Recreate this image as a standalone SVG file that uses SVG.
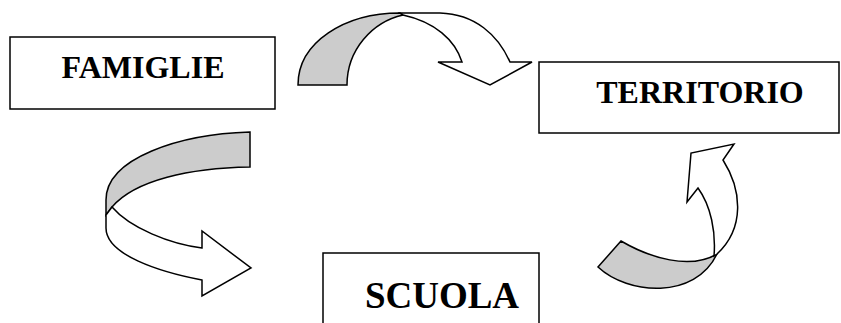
<svg xmlns="http://www.w3.org/2000/svg" width="841" height="323" viewBox="0 0 841 323">
  <style>
    .box { fill: #ffffff; stroke: #000000; stroke-width: 1.5; }
    .label { font-family: "Liberation Serif", "Times New Roman", serif; font-weight: bold; fill: #000000; text-anchor: middle; }
    .back { fill: #cccccc; stroke: #000000; stroke-width: 1.5; stroke-linejoin: miter; }
    .front { fill: #ffffff; stroke: #000000; stroke-width: 1.5; stroke-linejoin: miter; }
  </style>

  <!-- curved ribbon arrows -->
  <g id="connectors">
    <!-- FAMIGLIE to TERRITORIO -->
    <g id="arrow-famiglie-territorio">
      <path class="back" d="M298,85 C298,42 345,13 400,13 L403,15 C372,22 347,50 347,85 Z"/>
      <path class="front" d="M403,15 C435,22 455,40 462,62 L438,62 L490,85 L532,62 L510,62 C498,35 475,14 440,13 L400,13 Z"/>
    </g>
    <!-- FAMIGLIE to SCUOLA -->
    <g id="arrow-famiglie-scuola">
      <path class="back" d="M250,132 C180,134 106,158 106,200 L106,215 L112,207 C135,180 190,168 250,167 Z"/>
      <path class="front" d="M106,215 L112,207 C130,228 170,244 202,248 L202,231 L251,268 L202,296 L202,280 C160,272 106,255 106,228 Z"/>
    </g>
    <!-- SCUOLA to TERRITORIO -->
    <g id="arrow-scuola-territorio">
      <path class="back" d="M621,241 C650,258 690,270 717,254 C695,300 628,295 598,267 Z"/>
      <path class="front" d="M714,256 C716,232 711,206 698,188 L687,202 L691,153 L734,144 L723,160 C742,190 745,228 717,254 Z"/>
    </g>
  </g>

  <g id="famiglie">
    <rect class="box" x="10" y="37" width="265" height="72"/>
    <text class="label" x="143" y="78" font-size="32">FAMIGLIE</text>
  </g>

  <g id="territorio">
    <rect class="box" x="539" y="62" width="300" height="71"/>
    <text class="label" x="700" y="103" font-size="32">TERRITORIO</text>
  </g>

  <g id="scuola">
    <rect class="box" x="323" y="253" width="216" height="80"/>
    <text class="label" x="442" y="308" font-size="37">SCUOLA</text>
  </g>
</svg>
